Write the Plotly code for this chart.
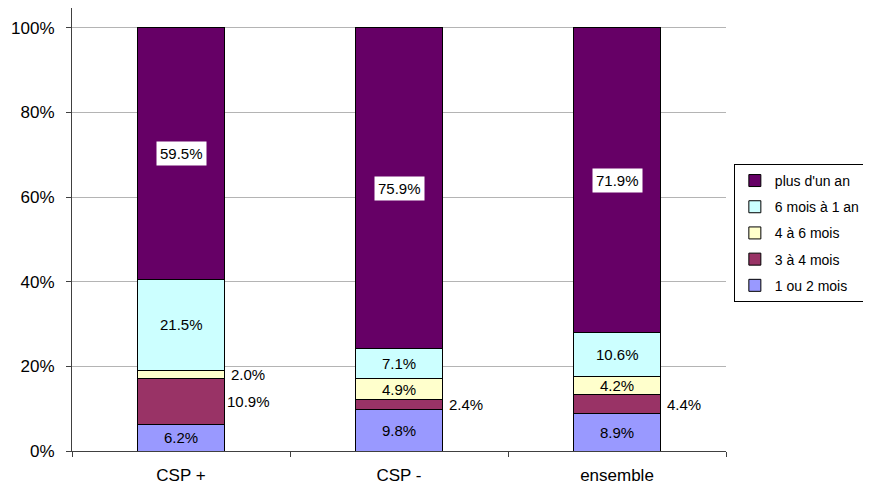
import plotly.graph_objects as go

categories = ["CSP +", "CSP -", "ensemble"]
series_names = ["1 ou 2 mois", "3 à 4 mois", "4 à 6 mois", "6 mois à 1 an", "plus d'un an"]
v_1_2_mois = [6.2, 9.8, 8.9]
v_3_4_mois = [10.9, 2.4, 4.4]
v_4_6_mois = [2.0, 4.9, 4.2]
v_6m_1an = [21.5, 7.1, 10.6]
v_plus_1an = [59.5, 75.9, 71.9]
series_values = [v_1_2_mois, v_3_4_mois, v_4_6_mois, v_6m_1an, v_plus_1an]
y_tick_values = [0, 20, 40, 60, 80, 100]
y_tick_labels = ["0%", "20%", "40%", "60%", "80%", "100%"]

colors = ["#9999FF", "#993366", "#FFFFCC", "#CCFFFF", "#660066"]
# labels drawn to the right of the bar (series index, category index)
outside_labels = {(2, 0), (1, 0), (1, 1), (1, 2)}
boxed_series = {4}

FONT = "Liberation Sans, Arial, sans-serif"

fig = go.Figure()
n = len(series_names)
for i, (name, vals) in enumerate(zip(series_names, series_values)):
    fig.add_trace(go.Bar(
        x=categories, y=vals, name=name, legendgroup=name,
        legendrank=(n - i) * 10,
        marker=dict(color=colors[i], line=dict(color="#000000", width=1)),
        hoverinfo="skip",
    ))

annotations = []
for ci, cat in enumerate(categories):
    base = 0.0
    for si, vals in enumerate(series_values):
        v = vals[ci]
        mid = base + v / 2
        base += v
        txt = f"{v:.1f}%"
        a = dict(x=cat, y=mid, xref="x", yref="y", text=txt, showarrow=False,
                 font=dict(family=FONT, size=15, color="#000"))
        if (si, ci) in outside_labels:
            a["xshift"] = 67
        elif si in boxed_series:
            a["bgcolor"] = "#FFFFFF"
            a["borderpad"] = 3
        annotations.append(a)

fig.update_layout(
    width=871, height=489,
    margin=dict(l=64, r=153, t=0, b=46),
    barmode="stack", bargap=0.6,
    plot_bgcolor="#FFFFFF", paper_bgcolor="#FFFFFF",
    font=dict(family=FONT, size=15, color="#000"),
    showlegend=True,
    legend=dict(x=1.012, y=0.648, xanchor="left", yanchor="top",
                traceorder="grouped", bordercolor="#000000", borderwidth=1,
                tracegroupgap=5, font=dict(family=FONT, size=14),
                itemwidth=30),
    annotations=annotations,
    xaxis=dict(type="category", showline=True, linecolor="#404040", linewidth=1,
               ticks="outside", tickson="boundaries", ticklen=5, tickcolor="#404040",
               showgrid=False, tickfont=dict(family=FONT, size=17),
               ticklabelstandoff=9),
    yaxis=dict(range=[0, 104.7], tickvals=y_tick_values, ticktext=y_tick_labels,
               showline=True, linecolor="#404040", linewidth=1,
               ticks="outside", ticklen=5, tickcolor="#404040",
               showgrid=True, gridcolor="#B4B4B4", gridwidth=1,
               zeroline=False, tickfont=dict(family=FONT, size=17),
               ticklabelstandoff=8),
)

fig.write_html("out.html")
